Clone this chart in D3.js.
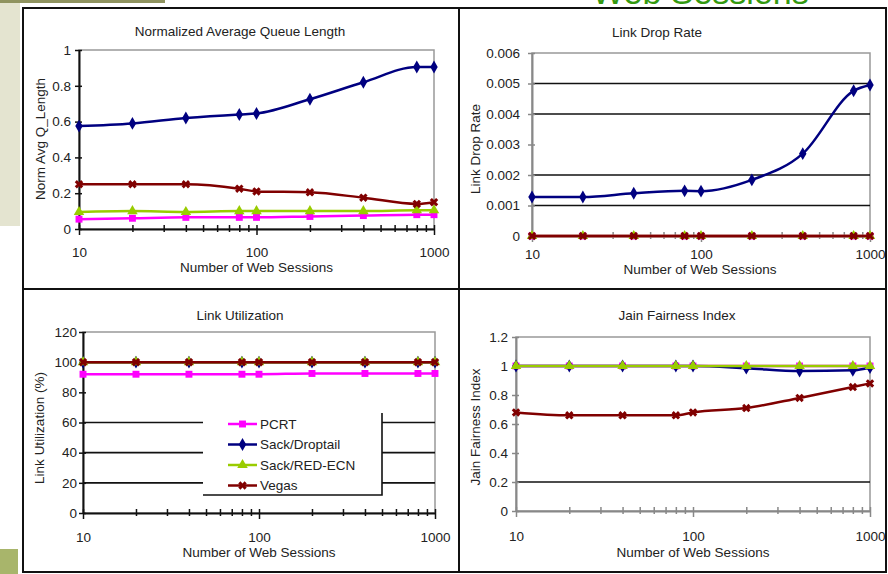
<!DOCTYPE html>
<html>
<head>
<meta charset="utf-8">
<script src="https://cdn.jsdelivr.net/npm/d3@7"></script>
<style>
  html, body { margin: 0; padding: 0; background: #fff; }
  svg { display: block; font-family: "Liberation Sans", Arial, sans-serif; }
</style>
</head>
<body>
<div id="chart"></div>
<script>
// values
var sessions = [10, 20, 40, 80, 100, 200, 400, 800, 1000];
var seriesNames = ["PCRT", "Sack/Droptail", "Sack/RED-ECN", "Vegas"];

var queuePcrt     = [0.055, 0.06, 0.065, 0.065, 0.065, 0.07, 0.075, 0.08, 0.08];
var queueDroptail = [0.575, 0.59, 0.62, 0.64, 0.645, 0.725, 0.82, 0.905, 0.905];
var queueRedEcn   = [0.095, 0.1, 0.095, 0.1, 0.1, 0.1, 0.1, 0.105, 0.105];
var queueVegas    = [0.25, 0.25, 0.25, 0.225, 0.21, 0.205, 0.175, 0.14, 0.15];

var dropPcrt     = [0, 0, 0, 0, 0, 0, 0, 0, 0];
var dropDroptail = [0.00128, 0.00128, 0.0014, 0.00148, 0.00147, 0.00184, 0.0027, 0.00476, 0.00495];
var dropRedEcn   = [0, 0, 0, 0, 0, 0, 0, 0, 0];
var dropVegas    = [0, 0, 0, 0, 0, 0, 0, 0, 0];

var utilPcrt     = [92, 92, 92, 92, 92, 92.5, 92.5, 92.5, 92.5];
var utilDroptail = [100, 100, 100, 100, 100, 100, 100, 100, 100];
var utilRedEcn   = [100, 100, 100, 100, 100, 100, 100, 100, 100];
var utilVegas    = [100, 100, 100, 100, 100, 100, 100, 100, 100];

var fairPcrt     = [1, 1, 1, 1, 1, 1, 1, 1, 1];
var fairDroptail = [1, 1, 1, 1, 1, 0.985, 0.965, 0.97, 0.99];
var fairRedEcn   = [1, 1, 1, 1, 1, 1, 1, 1, 1];
var fairVegas    = [0.68, 0.66, 0.66, 0.66, 0.68, 0.71, 0.78, 0.855, 0.88];

var xLabels    = [10, 100, 1000];
var queueTicks = [0, 0.2, 0.4, 0.6, 0.8, 1];
var dropTicks  = [0, 0.001, 0.002, 0.003, 0.004, 0.005, 0.006];
var utilTicks  = [0, 20, 40, 60, 80, 100, 120];
var fairTicks  = [0, 0.2, 0.4, 0.6, 0.8, 1, 1.2];
// only the grid lines that survive in the picture
var dropGrid = [0.001, 0.002, 0.004, 0.005];
var utilGrid = [20, 40, 60];
var fairGrid = [0.2];

var colors  = ["#ff00ff", "#000080", "#99cc00", "#800000"];
var symbols = [d3.symbolSquare, d3.symbolDiamond, d3.symbolTriangle, d3.symbolCross];

var W = 888, H = 574, FS = 13.5;

var svg = d3.select("#chart").append("svg")
  .attr("width", W).attr("height", H);

// slide decoration around the picture
svg.append("rect").attr("x", 0).attr("y", 0).attr("width", 20).attr("height", 226).attr("fill", "#e4e4d0");
svg.append("rect").attr("x", 0).attr("y", 0).attr("width", 165).attr("height", 3).attr("fill", "#8f935f");
svg.append("rect").attr("x", 0).attr("y", 549).attr("width", 18).attr("height", 25).attr("fill", "#a8b56b");
svg.append("text").text("Web Sessions")
  .attr("x", 592).attr("y", 4)
  .style("font-size", "34px").attr("fill", "#33990f");

function fmt(v) { return String(v); }

function panel(cfg) {
  var g = svg.append("g");
  var x = d3.scaleLog().domain([10, 1000]).range([cfg.left, cfg.right]);
  var y = d3.scaleLinear().domain([0, cfg.ticks[cfg.ticks.length - 1]]).range([cfg.bottom, cfg.top]);

  g.append("text").text(cfg.title)
    .attr("x", cfg.titleX).attr("y", cfg.titleY)
    .attr("text-anchor", "middle").style("font-size", FS + "px").attr("fill", "#222");

  // plot area border
  g.append("rect")
    .attr("x", cfg.left).attr("y", cfg.top)
    .attr("width", cfg.right - cfg.left).attr("height", cfg.bottom - cfg.top)
    .attr("fill", "none").attr("stroke", "#999").attr("stroke-width", 1.5);

  g.selectAll(".grid").data(cfg.grid).enter().append("line")
    .attr("x1", cfg.left).attr("x2", cfg.right)
    .attr("y1", function(d) { return y(d); }).attr("y2", function(d) { return y(d); })
    .attr("stroke", "#111").attr("stroke-width", 1.6);

  // y axis
  var gy = g.append("g").attr("transform", "translate(" + cfg.left + ",0)")
    .call(d3.axisLeft(y).tickValues(cfg.ticks).tickFormat(fmt).tickSizeInner(4).tickSizeOuter(0).tickPadding(cfg.yPad));
  gy.select(".domain").attr("stroke", cfg.axisColor).attr("stroke-width", 2);
  gy.selectAll(".tick line").attr("stroke", cfg.axisColor).attr("x2", -4).attr("x1", 3).attr("stroke-width", 1.5);
  gy.selectAll(".tick text").style("font-size", FS + "px").attr("fill", "#222").style("font-family", "inherit");

  // x axis, log minor ticks
  var gx = g.append("g").attr("transform", "translate(0," + cfg.bottom + ")")
    .call(d3.axisBottom(x).tickValues(x.ticks()).tickSizeOuter(0)
      .tickFormat(function(d) { return xLabels.indexOf(d) >= 0 ? fmt(d) : ""; }));
  gx.select(".domain").attr("stroke", cfg.axisColor).attr("stroke-width", 2);
  gx.selectAll(".tick line").attr("stroke", cfg.axisColor).attr("stroke-width", 1.5)
    .attr("y1", -4).attr("y2", function(d) { return xLabels.indexOf(d) >= 0 ? 6 : 3; });
  gx.selectAll(".tick text").attr("y", cfg.xLabelY - cfg.bottom).attr("dy", 0)
    .style("font-size", FS + "px").attr("fill", "#222").style("font-family", "inherit");

  g.append("text").text("Number of Web Sessions")
    .attr("x", (cfg.left + cfg.right) / 2 + cfg.xTitleShift).attr("y", cfg.xTitleY)
    .attr("text-anchor", "middle").style("font-size", FS + "px").attr("fill", "#222");

  g.append("text").text(cfg.yTitle)
    .attr("transform", "translate(" + cfg.yTitleX + "," + cfg.yTitleY + ") rotate(-90)")
    .attr("text-anchor", "middle").attr("dy", "0.35em").style("font-size", FS + "px").attr("fill", "#222");

  var line = d3.line()
    .x(function(d, i) { return x(sessions[i]); })
    .y(function(d) { return y(d); })
    .curve(d3.curveMonotoneX);

  cfg.series.forEach(function(vals, k) {
    g.append("path").datum(vals)
      .attr("d", line).attr("fill", "none")
      .attr("stroke", colors[k]).attr("stroke-width", 2.5);
    g.selectAll(".m" + k).data(vals).enter().append("path")
      .attr("class", "m" + k)
      .attr("transform", function(d, i) {
        return "translate(" + x(sessions[i]) + "," + y(d) + ")" + (k === 3 ? " rotate(45)" : "");
      })
      .attr("d", d3.symbol().type(symbols[k]).size(k === 3 ? 45 : 48))
      .attr("fill", colors[k]);
  });
  return g;
}

panel({
  title: "Normalized Average Queue Length", titleX: 240, titleY: 36,
  left: 79, right: 434, top: 50, bottom: 229,
  ticks: queueTicks, grid: [], axisColor: "#111", yPad: 4,
  xLabelY: 257, xTitleY: 272, xTitleShift: 0,
  yTitle: "Norm Avg Q_Length", yTitleX: 40, yTitleY: 139,
  series: [queuePcrt, queueDroptail, queueRedEcn, queueVegas]
});

panel({
  title: "Link Drop Rate", titleX: 657, titleY: 37,
  left: 532, right: 870, top: 53, bottom: 236,
  ticks: dropTicks, grid: dropGrid, axisColor: "#888", yPad: 8,
  xLabelY: 259, xTitleY: 274, xTitleShift: -1,
  yTitle: "Link Drop Rate", yTitleX: 475, yTitleY: 149,
  series: [dropPcrt, dropDroptail, dropRedEcn, dropVegas]
});

var p3 = panel({
  title: "Link Utilization", titleX: 240, titleY: 320,
  left: 83, right: 435, top: 332, bottom: 513,
  ticks: utilTicks, grid: utilGrid, axisColor: "#111", yPad: 2,
  xLabelY: 542, xTitleY: 557, xTitleShift: 0,
  yTitle: "Link Utilization (%)", yTitleX: 39, yTitleY: 428,
  series: [utilPcrt, utilDroptail, utilRedEcn, utilVegas]
});

panel({
  title: "Jain Fairness Index", titleX: 677, titleY: 320,
  left: 516, right: 870, top: 337, bottom: 511,
  ticks: fairTicks, grid: fairGrid, axisColor: "#888", yPad: 4,
  xLabelY: 541, xTitleY: 557, xTitleShift: 0,
  yTitle: "Jain Fairness Index", yTitleX: 475, yTitleY: 427,
  series: [fairPcrt, fairDroptail, fairRedEcn, fairVegas]
});

// legend inside the utilization panel
var lg = p3.append("g");
lg.append("rect").attr("x", 203).attr("y", 413).attr("width", 179).attr("height", 82).attr("fill", "#fff");
lg.append("path").attr("d", "M382,413V495H203").attr("fill", "none").attr("stroke", "#111").attr("stroke-width", 1.6);
var items = lg.selectAll(".item").data(seriesNames).enter().append("g")
  .attr("transform", function(d, i) { return "translate(0," + (424 + i * 20.5) + ")"; });
items.append("line").attr("x1", 228).attr("x2", 257)
  .attr("stroke", function(d, i) { return colors[i]; }).attr("stroke-width", 2.5);
items.append("path")
  .attr("transform", function(d, i) { return "translate(242.5,0)" + (i === 3 ? " rotate(45)" : ""); })
  .attr("d", function(d, i) { return d3.symbol().type(symbols[i]).size(i === 3 ? 45 : 48)(); })
  .attr("fill", function(d, i) { return colors[i]; });
items.append("text").text(function(d) { return d; })
  .attr("x", 260).attr("dy", "0.35em").style("font-size", FS + "px").attr("fill", "#222");

// outer frame and the dividers between the four charts
var frame = svg.append("g").attr("fill", "none").attr("stroke", "#111").attr("stroke-width", 2);
frame.append("rect").attr("x", 23).attr("y", 8).attr("width", 863).attr("height", 564);
frame.append("line").attr("x1", 459).attr("x2", 459).attr("y1", 8).attr("y2", 572);
frame.append("line").attr("x1", 23).attr("x2", 886).attr("y1", 289).attr("y2", 289);
</script>
</body>
</html>
